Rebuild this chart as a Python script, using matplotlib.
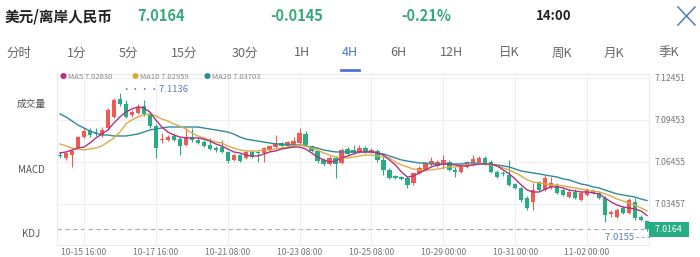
import matplotlib
matplotlib.use('Agg')
import matplotlib.pyplot as plt
import matplotlib.transforms as mtransforms
from matplotlib.lines import Line2D

plt.rcParams['font.family'] = ['Noto Sans CJK SC', 'DejaVu Sans']

# 4H candles, USD/CNH
opens = [7.0695, 7.0674, 7.0695, 7.0745, 7.0824, 7.0867, 7.0852, 7.0838, 7.0888, 7.0967,
         7.1095, 7.1059, 7.0981, 7.0995, 7.1045, 7.0988, 7.0902, 7.0802, 7.0802, 7.0831,
         7.0809, 7.0767, 7.0824, 7.0802, 7.0788, 7.0767, 7.0745, 7.0752, 7.0717, 7.0660,
         7.0695, 7.0674, 7.0717, 7.0717, 7.0710, 7.0731, 7.0752, 7.0781, 7.0760, 7.0767,
         7.0781, 7.0845, 7.0760, 7.0724, 7.0660, 7.0631, 7.0674, 7.0638, 7.0738, 7.0731,
         7.0717, 7.0745, 7.0717, 7.0724, 7.0660, 7.0588, 7.0545, 7.0538, 7.0531, 7.0495,
         7.0567, 7.0588, 7.0631, 7.0617, 7.0638, 7.0645, 7.0588, 7.0574, 7.0610, 7.0638,
         7.0645, 7.0674, 7.0645, 7.0574, 7.0567, 7.0552, 7.0488, 7.0460, 7.0388, 7.0360,
         7.0502, 7.0445, 7.0467, 7.0481, 7.0445, 7.0395, 7.0431, 7.0374, 7.0410, 7.0438,
         7.0424, 7.0388, 7.0274, 7.0252, 7.0317, 7.0281, 7.0360, 7.0252, 7.0224]
highs = [7.0717, 7.0717, 7.0731, 7.0831, 7.0888, 7.0888, 7.0888, 7.0895, 7.1031, 7.1102,
         7.1136, 7.1088, 7.1017, 7.1059, 7.1088, 7.1002, 7.0917, 7.0852, 7.0838, 7.0852,
         7.0824, 7.0888, 7.0888, 7.0817, 7.0802, 7.0817, 7.0760, 7.0802, 7.0724, 7.0702,
         7.0702, 7.0731, 7.0731, 7.0724, 7.0752, 7.0767, 7.0838, 7.0788, 7.0795, 7.0824,
         7.0888, 7.0867, 7.0767, 7.0731, 7.0674, 7.0688, 7.0688, 7.0745, 7.0752, 7.0767,
         7.0767, 7.0760, 7.0745, 7.0738, 7.0710, 7.0602, 7.0552, 7.0545, 7.0545, 7.0574,
         7.0617, 7.0645, 7.0681, 7.0660, 7.0695, 7.0660, 7.0610, 7.0631, 7.0652, 7.0695,
         7.0688, 7.0688, 7.0660, 7.0588, 7.0581, 7.0660, 7.0495, 7.0467, 7.0402, 7.0495,
         7.0510, 7.0552, 7.0538, 7.0495, 7.0460, 7.0445, 7.0452, 7.0438, 7.0460, 7.0452,
         7.0438, 7.0402, 7.0303, 7.0317, 7.0331, 7.0388, 7.0388, 7.0267, 7.0231]
lows = [7.0674, 7.0660, 7.0610, 7.0738, 7.0817, 7.0824, 7.0831, 7.0824, 7.0874, 7.0959,
        7.1045, 7.0959, 7.0967, 7.0988, 7.0974, 7.0888, 7.0674, 7.0781, 7.0795, 7.0795,
        7.0695, 7.0760, 7.0788, 7.0774, 7.0752, 7.0731, 7.0717, 7.0710, 7.0638, 7.0652,
        7.0645, 7.0667, 7.0674, 7.0645, 7.0645, 7.0724, 7.0745, 7.0752, 7.0752, 7.0760,
        7.0767, 7.0760, 7.0717, 7.0638, 7.0617, 7.0624, 7.0531, 7.0631, 7.0695, 7.0702,
        7.0710, 7.0710, 7.0710, 7.0645, 7.0552, 7.0524, 7.0524, 7.0517, 7.0460, 7.0481,
        7.0560, 7.0581, 7.0617, 7.0610, 7.0602, 7.0581, 7.0538, 7.0567, 7.0602, 7.0631,
        7.0638, 7.0624, 7.0567, 7.0531, 7.0545, 7.0474, 7.0452, 7.0360, 7.0303, 7.0303,
        7.0438, 7.0438, 7.0452, 7.0417, 7.0402, 7.0388, 7.0381, 7.0367, 7.0402, 7.0417,
        7.0381, 7.0217, 7.0252, 7.0245, 7.0274, 7.0274, 7.0231, 7.0224, 7.0155]
closes = [7.0688, 7.0710, 7.0724, 7.0824, 7.0867, 7.0838, 7.0845, 7.0874, 7.1017, 7.1088,
          7.1059, 7.0967, 7.1002, 7.1038, 7.0988, 7.0902, 7.0745, 7.0809, 7.0824, 7.0802,
          7.0760, 7.0824, 7.0802, 7.0781, 7.0760, 7.0738, 7.0731, 7.0717, 7.0652, 7.0695,
          7.0652, 7.0717, 7.0681, 7.0710, 7.0745, 7.0760, 7.0781, 7.0760, 7.0788, 7.0795,
          7.0852, 7.0767, 7.0724, 7.0652, 7.0631, 7.0674, 7.0631, 7.0731, 7.0702, 7.0710,
          7.0745, 7.0717, 7.0731, 7.0660, 7.0588, 7.0531, 7.0531, 7.0524, 7.0481, 7.0567,
          7.0602, 7.0638, 7.0652, 7.0645, 7.0660, 7.0588, 7.0574, 7.0624, 7.0645, 7.0667,
          7.0674, 7.0638, 7.0574, 7.0538, 7.0560, 7.0481, 7.0460, 7.0374, 7.0317, 7.0445,
          7.0445, 7.0531, 7.0495, 7.0424, 7.0410, 7.0431, 7.0388, 7.0424, 7.0445, 7.0424,
          7.0388, 7.0267, 7.0288, 7.0303, 7.0281, 7.0374, 7.0245, 7.0231, 7.0164]

# moving averages as drawn on the chart
ma5 = [7.0710, 7.0717, 7.0731, 7.0745, 7.0752, 7.0781, 7.0817, 7.0845, 7.0874, 7.0924,
       7.0967, 7.1002, 7.1024, 7.1038, 7.1031, 7.1002, 7.0945, 7.0895, 7.0859, 7.0838,
       7.0824, 7.0817, 7.0817, 7.0817, 7.0809, 7.0795, 7.0774, 7.0760, 7.0738, 7.0717,
       7.0710, 7.0695, 7.0688, 7.0688, 7.0702, 7.0717, 7.0724, 7.0738, 7.0745, 7.0752,
       7.0752, 7.0738, 7.0710, 7.0681, 7.0660, 7.0645, 7.0652, 7.0674, 7.0688, 7.0702,
       7.0717, 7.0717, 7.0717, 7.0710, 7.0695, 7.0660, 7.0624, 7.0574, 7.0538, 7.0545,
       7.0567, 7.0588, 7.0610, 7.0624, 7.0631, 7.0631, 7.0624, 7.0617, 7.0617, 7.0624,
       7.0631, 7.0631, 7.0631, 7.0617, 7.0588, 7.0560, 7.0524, 7.0481, 7.0445, 7.0431,
       7.0431, 7.0452, 7.0467, 7.0467, 7.0460, 7.0445, 7.0438, 7.0431, 7.0431, 7.0424,
       7.0417, 7.0388, 7.0360, 7.0338, 7.0324, 7.0317, 7.0310, 7.0295, 7.0263]
ma10 = [7.0774, 7.0760, 7.0745, 7.0738, 7.0731, 7.0738, 7.0745, 7.0760, 7.0788, 7.0817,
        7.0859, 7.0917, 7.0945, 7.0967, 7.0981, 7.0988, 7.0974, 7.0952, 7.0938, 7.0917,
        7.0902, 7.0881, 7.0852, 7.0831, 7.0817, 7.0802, 7.0788, 7.0781, 7.0760, 7.0745,
        7.0731, 7.0724, 7.0724, 7.0724, 7.0731, 7.0731, 7.0738, 7.0745, 7.0752, 7.0760,
        7.0767, 7.0760, 7.0745, 7.0731, 7.0710, 7.0695, 7.0681, 7.0674, 7.0674, 7.0681,
        7.0688, 7.0695, 7.0695, 7.0688, 7.0681, 7.0674, 7.0645, 7.0624, 7.0610, 7.0595,
        7.0588, 7.0588, 7.0588, 7.0595, 7.0602, 7.0610, 7.0610, 7.0617, 7.0624, 7.0624,
        7.0631, 7.0631, 7.0624, 7.0617, 7.0602, 7.0588, 7.0567, 7.0545, 7.0517, 7.0502,
        7.0495, 7.0488, 7.0481, 7.0481, 7.0474, 7.0467, 7.0460, 7.0452, 7.0445, 7.0438,
        7.0431, 7.0417, 7.0402, 7.0381, 7.0367, 7.0352, 7.0338, 7.0317, 7.0296]
ma20 = [7.0988, 7.0967, 7.0938, 7.0909, 7.0888, 7.0867, 7.0852, 7.0838, 7.0838, 7.0831,
        7.0831, 7.0831, 7.0838, 7.0845, 7.0859, 7.0874, 7.0881, 7.0888, 7.0895, 7.0895,
        7.0895, 7.0895, 7.0895, 7.0895, 7.0888, 7.0881, 7.0874, 7.0867, 7.0859, 7.0845,
        7.0824, 7.0809, 7.0802, 7.0795, 7.0788, 7.0781, 7.0774, 7.0774, 7.0767, 7.0767,
        7.0767, 7.0760, 7.0752, 7.0745, 7.0731, 7.0724, 7.0717, 7.0717, 7.0717, 7.0717,
        7.0717, 7.0717, 7.0717, 7.0710, 7.0702, 7.0688, 7.0674, 7.0660, 7.0652, 7.0645,
        7.0638, 7.0638, 7.0631, 7.0631, 7.0631, 7.0631, 7.0631, 7.0631, 7.0638, 7.0638,
        7.0638, 7.0631, 7.0624, 7.0624, 7.0617, 7.0610, 7.0595, 7.0581, 7.0574, 7.0567,
        7.0560, 7.0552, 7.0545, 7.0538, 7.0524, 7.0517, 7.0502, 7.0488, 7.0481, 7.0467,
        7.0460, 7.0445, 7.0431, 7.0417, 7.0410, 7.0402, 7.0395, 7.0381, 7.0370]

date_idx = [4, 16, 28, 40, 52, 64, 76, 88]
date_labels = ['10-15 16:00', '10-17 16:00', '10-21 08:00', '10-23 08:00',
               '10-25 08:00', '10-29 00:00', '10-31 00:00', '11-02 00:00']
price_ticks = [7.12451, 7.09453, 7.06455, 7.03457]
ma_names = ['MA5', 'MA10', 'MA20']
ma_last = [7.02630, 7.02959, 7.03703]
last_price = 7.0164
change = -0.0145
change_pct = -0.21
tabs = ['分时', '1分', '5分', '15分', '30分', '1H', '4H', '6H', '12H', '日K', '周K', '月K', '季K']
tab_x = [19, 77, 128, 184, 245, 302, 350, 398, 451, 509, 562, 614, 669]
side_labels = ['成交量', 'MACD', 'KDJ']
side_y = [104, 170, 234]

UP = '#ef5a55'
DOWN = '#27ad84'
GREEN_TXT = '#35a97a'
BLUE = '#4f74cf'
MA_COLORS = ['#b3327f', '#dcab45', '#2f8a9b']
W, H = 700, 257


def fx(px):
    return px / W


def fy(py):
    return 1 - py / H


fig = plt.figure(figsize=(7.0, 2.57), dpi=100)
fig.patch.set_facecolor('white')

# header row
fig.text(fx(5), fy(16), '美元/离岸人民币', fontsize=10.5, fontweight='bold', color='#222222', va='center')
fig.text(fx(137), fy(16), f'{last_price:.4f}', fontsize=10.5, fontweight='bold', color=GREEN_TXT, va='center')
fig.text(fx(297), fy(16), f'{change:.4f}', fontsize=10.5, fontweight='bold', color=GREEN_TXT, va='center', ha='center')
fig.text(fx(426), fy(16), f'{change_pct:.2f}%', fontsize=10.5, fontweight='bold', color=GREEN_TXT, va='center', ha='center')
fig.text(fx(554), fy(16), '14:00', fontsize=9.5, fontweight='bold', color='#222222', va='center', ha='center')
fig.add_artist(Line2D([fx(678), fx(695)], [fy(7), fy(25)], color='#4a7cc4', lw=1.1))
fig.add_artist(Line2D([fx(678), fx(695)], [fy(25), fy(7)], color='#4a7cc4', lw=1.1))

# period tabs
for t, x in zip(tabs, tab_x):
    c = BLUE if t == '4H' else '#666666'
    fig.text(fx(x), fy(53), t, fontsize=9, color=c, ha='center', va='center')
fig.add_artist(Line2D([fx(341), fx(359)], [fy(70), fy(70)], color=BLUE, lw=2))

# sub-indicator buttons on the left
for t, y in zip(side_labels, side_y):
    fig.text(fx(31), fy(y), t, fontsize=7, color='#555555', ha='center', va='center')

# price panel
ax = fig.add_axes([fx(57), fy(245), (649 - 57) / W, (245 - 74) / H])
n = len(closes)
xs = list(range(n))
ax.set_xlim(-0.5, n - 0.67)
ax.set_ylim(7.00526, 7.12735)

for i in xs:
    col = UP if closes[i] >= opens[i] else DOWN
    ax.vlines(i, lows[i], highs[i], color=col, lw=0.8, zorder=2)
    body = closes[i] - opens[i]
    if abs(body) < 0.00012:
        body = 0.00012 if body >= 0 else -0.00012
    ax.bar(i, body, bottom=opens[i], width=0.72, color=col, lw=0, zorder=3)

for vals, c in zip([ma20, ma10, ma5], MA_COLORS[::-1]):
    ax.plot(xs, vals, color=c, lw=1.0, zorder=4)

ax.set_yticks(price_ticks)
ax.set_yticklabels([f'{p:.5f}' for p in price_ticks])
ax.yaxis.tick_right()
ax.set_xticks(date_idx)
ax.set_xticklabels(date_labels)
ax.tick_params(axis='both', length=0, labelsize=6.2, labelcolor='#777777')
ax.tick_params(axis='y', pad=4)
ax.tick_params(axis='x', pad=2)
ax.grid(True, color='#efefef', lw=0.8, zorder=0)
for s in ax.spines.values():
    s.set_color('#ebebeb')
    s.set_linewidth(0.8)

# last price line + badge
ax.axhline(last_price, color='#a8a8a8', lw=0.8, ls=(0, (4, 3)), zorder=1)
trans = mtransforms.blended_transform_factory(ax.transAxes, ax.transData)
ax.text(1.004, last_price, f'  {last_price:.4f}  ', transform=trans, fontsize=6.3, color='white',
        ha='left', va='center', bbox=dict(boxstyle='square,pad=0.3', fc=DOWN, ec='none'), clip_on=False)

# high / low markers
hi_i = highs.index(max(highs))
lo_i = lows.index(min(lows))
ax.annotate('····' + f'{max(highs):.4f}', xy=(hi_i, max(highs)), xytext=(1, 3), textcoords='offset points',
            fontsize=6.8, color='#5b7fbf', ha='left', va='center')
ax.annotate(f'{min(lows):.4f}' + ' - - -', xy=(lo_i, min(lows)), xytext=(2, -5), textcoords='offset points',
            fontsize=6.8, color='#5b7fbf', ha='right', va='center')

# MA legend
leg_x = [63, 135, 207]
for name, v, c, x in zip(ma_names, ma_last, MA_COLORS, leg_x):
    fig.text(fx(x), fy(77), '●', fontsize=5, color=c, ha='center', va='center')
    fig.text(fx(x + 5), fy(77), f'{name} {v:.5f}', fontsize=5.5, color='#888888', ha='left', va='center')

fig.savefig('out.png', dpi=100, facecolor='white')
